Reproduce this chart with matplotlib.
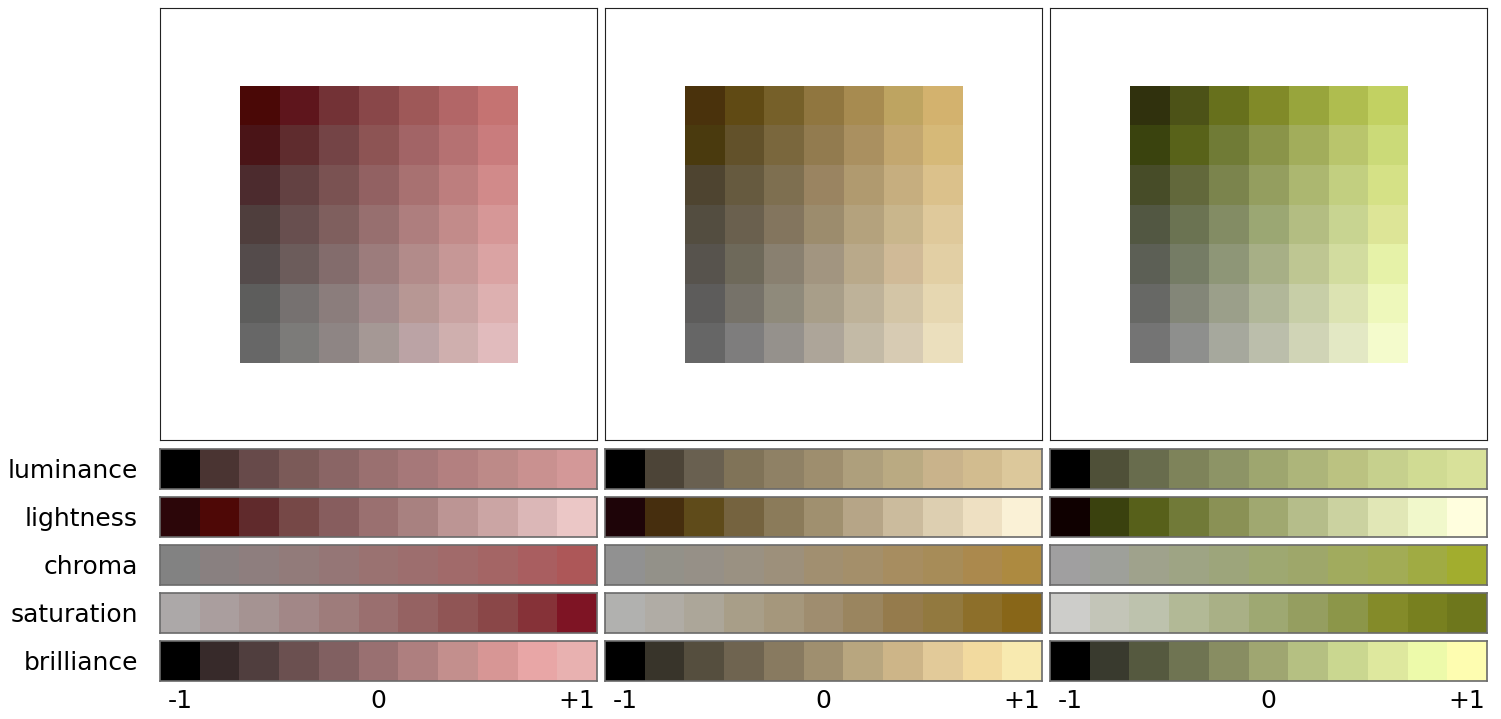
import numpy as np
import matplotlib
matplotlib.use("Agg")
import matplotlib.pyplot as plt
from matplotlib.colors import to_rgb

# --- 7x7 grids (top row first), one per hue ---
grid_red = [
    ["#4a0806", "#5e151c", "#733236", "#894749", "#9e5858", "#b26667", "#c57372"],
    ["#4a1417", "#5f2c2e", "#744446", "#8d5454", "#a26466", "#b57172", "#c97c7d"],
    ["#4c2b2e", "#634142", "#7a5252", "#926162", "#a87171", "#bd7e7e", "#d18a8a"],
    ["#4f3e3d", "#684f4f", "#7f5f5e", "#976f6f", "#ae7e7e", "#c28b8a", "#d69797"],
    ["#544b4b", "#6c5c5b", "#836c6c", "#9c7c7c", "#b28b8a", "#c69796", "#daa3a3"],
    ["#5d5d5c", "#767170", "#8b7d7c", "#a28a8b", "#b79794", "#c9a3a2", "#ddb0b0"],
    ["#676767", "#7c7b79", "#8e8584", "#a59895", "#bba3a5", "#cfafae", "#e1bbbd"],
]
grid_gold = [
    ["#4a320c", "#604a14", "#766029", "#90763f", "#a78b50", "#bea461", "#d3b26e"],
    ["#4a3a0e", "#62512a", "#7a673d", "#927b4f", "#aa9060", "#c3a76f", "#d6b978"],
    ["#4e4430", "#665a3f", "#7e6f50", "#9a8461", "#b09a6f", "#c6ae7f", "#dbc18b"],
    ["#534d40", "#6a604e", "#83755e", "#9c8c6d", "#b4a27d", "#c9b68c", "#dfc99b"],
    ["#57534d", "#6e695a", "#898070", "#a29580", "#b9a98a", "#d0ba97", "#e2cfa4"],
    ["#5d5c5b", "#767269", "#8f8a7b", "#a89e89", "#beb299", "#d3c5a6", "#e6d7b1"],
    ["#666666", "#7e7d7d", "#95918c", "#ada599", "#c3baa6", "#d7cbb3", "#ebdfbd"],
]
grid_lime = [
    ["#30310d", "#4c5217", "#67701c", "#818a28", "#98a53c", "#afbd4f", "#c2d162"],
    ["#3a430e", "#586219", "#707b36", "#8a9449", "#a2ad5b", "#b9c56c", "#cbda78"],
    ["#474c28", "#62683b", "#7b844d", "#949e5f", "#acb770", "#c2cf80", "#d5e186"],
    ["#525742", "#6b7352", "#838c64", "#9ba773", "#b3bd82", "#c8d491", "#dde597"],
    ["#5c5f55", "#757c65", "#8e9677", "#a7af86", "#bec692", "#d2dc9f", "#e6f2a8"],
    ["#676865", "#838678", "#9b9f8a", "#b1b799", "#c7cea7", "#dce3b2", "#eef8bb"],
    ["#747474", "#8e8f8d", "#a6a89d", "#bbbeab", "#d0d4b6", "#e3e8c4", "#f4fbcc"],
]

# --- strips: 11 steps from -1 to +1 ---
properties = ["luminance", "lightness", "chroma", "saturation", "brilliance"]

strips_red = [
    ["#000000", "#4a3432", "#674a4a", "#7b5a58", "#8a6565", "#9a7070", "#a67879", "#b38080", "#bd8a88", "#c99190", "#d39898"],
    ["#2c0609", "#4e0806", "#602a2c", "#764847", "#875d5e", "#9a7070", "#a88180", "#bc9594", "#cba5a4", "#dbb7b7", "#ebc7c6"],
    ["#828282", "#898080", "#8e7e7e", "#927b7a", "#957676", "#9a7271", "#9d6e6e", "#a16a6a", "#a46565", "#a95e60", "#ad5758"],
    ["#aca8a8", "#aa9e9e", "#a59392", "#a28787", "#9e7c7b", "#9a6f6f", "#956262", "#905555", "#8a4748", "#863238", "#7e1424"],
    ["#000000", "#372a2a", "#503e3e", "#6b5050", "#816061", "#997071", "#ae7f7f", "#c38f8d", "#d79695", "#e8a6a6", "#e8b1b0"],
]
strips_gold = [
    ["#000000", "#4c4437", "#696050", "#807358", "#8f8165", "#9e8e6e", "#ae9f7c", "#baaa82", "#c9b38b", "#d2bc8f", "#dcc89b"],
    ["#1e0408", "#462e0e", "#5f4b1a", "#75633f", "#8b7b5a", "#a0906f", "#b6a587", "#cbbb9d", "#ddcfb1", "#eee0c2", "#faf1d6"],
    ["#919191", "#939189", "#969087", "#9a9182", "#9d907b", "#a18f70", "#a48f6a", "#a78d60", "#a78c58", "#ab894d", "#ad8a40"],
    ["#b1b1af", "#b0aca5", "#aca699", "#a89e88", "#a5977c", "#9f8d6f", "#9a855f", "#957b4c", "#92793f", "#8d6f2a", "#886618"],
    ["#000000", "#38342a", "#554e3e", "#6f6450", "#887a60", "#9f8f6f", "#b8a67f", "#cdb588", "#e2ca99", "#f2da9f", "#f8eab0"],
]
strips_lime = [
    ["#000000", "#4f5038", "#686c4d", "#7e835a", "#8d9466", "#9ea66f", "#adb57a", "#bbc281", "#c6d08d", "#d0db93", "#d8e19a"],
    ["#0f0000", "#3a410e", "#57601a", "#717a38", "#8a9155", "#a0a870", "#b5bd8a", "#cbd2a0", "#e1e7b6", "#f1f8cb", "#fffede"],
    ["#a09fa0", "#9ea09a", "#9fa28c", "#9ea484", "#9da57b", "#9ea871", "#9ea76a", "#a1ab5e", "#a2ac55", "#a0ab43", "#a2ad2e"],
    ["#cdcdca", "#c3c5b8", "#bdc2ad", "#b2b996", "#a9b086", "#9ea872", "#959e60", "#8c9649", "#848b29", "#78801f", "#6e771c"],
    ["#000000", "#393a2e", "#55593f", "#6f7452", "#888d62", "#9fa671", "#b5c082", "#cad790", "#dee89e", "#edfaaa", "#fefdb0"],
]

tick_pos = [0, 5, 10]
tick_labels = ["-1", "0", "+1"]

grids = [grid_red, grid_gold, grid_lime]
strips = [strips_red, strips_gold, strips_lime]


def to_img(rows):
    return np.array([[to_rgb(c) for c in row] for row in rows])


W, H = 1501, 719
fig = plt.figure(figsize=(W / 100, H / 100), dpi=100)

col_left = [160, 605, 1050]
col_w = 437


def px_axes(x0, y0, w, h):
    return fig.add_axes([x0 / W, 1 - (y0 + h) / H, w / W, h / H])


for k in range(3):
    x0 = col_left[k]
    ax = px_axes(x0, 8, col_w, 432)
    ax.imshow(to_img(grids[k]), interpolation="nearest", aspect="auto")
    ax.set_xlim(-2.52, 8.52)
    ax.set_ylim(8.45, -2.47)
    ax.set_xticks([]); ax.set_yticks([])
    for s in ax.spines.values():
        s.set_linewidth(0.8); s.set_color("#222222")

    for i, name in enumerate(properties):
        sa = px_axes(x0, 449 + 48 * i, col_w, 40)
        sa.imshow(to_img([strips[k][i]]), interpolation="nearest", aspect="auto")
        sa.set_yticks([])
        for s in sa.spines.values():
            s.set_linewidth(1.2); s.set_color("#6a6a6a")
        if i == len(properties) - 1:
            sa.set_xticks(tick_pos)
            sa.set_xticklabels(tick_labels, fontsize=18)
            sa.tick_params(axis="x", length=0, pad=6)
        else:
            sa.set_xticks([])
        if k == 0:
            fig.text(138 / W, 1 - (471 + 48 * i) / H, name, fontsize=18,
                     ha="right", va="center")

fig.savefig("out.png", dpi=100)
